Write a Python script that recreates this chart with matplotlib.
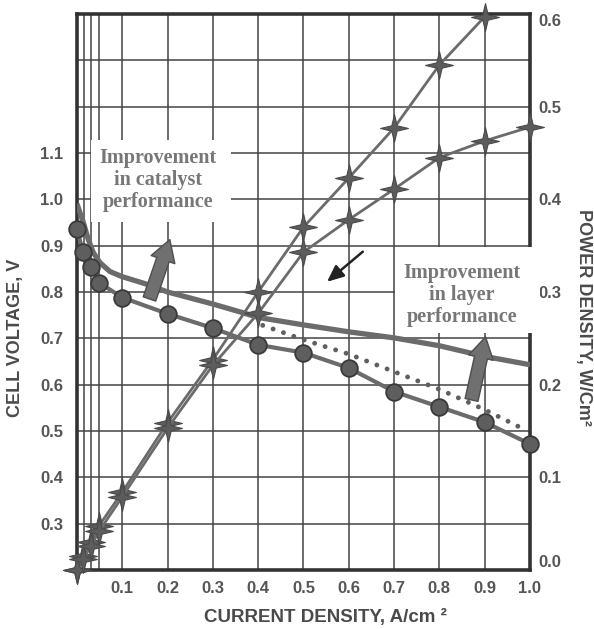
import matplotlib
matplotlib.use('Agg')
import matplotlib.pyplot as plt
from matplotlib.path import Path
from matplotlib.patches import Rectangle, FancyArrowPatch

# cell voltage of the base cell (circles), A/cm2 -> V
i_base = [0.0, 0.013, 0.032, 0.049, 0.1, 0.2, 0.3, 0.4, 0.5, 0.6, 0.7, 0.8, 0.9, 1.0]
v_base = [0.937, 0.887, 0.853, 0.82, 0.788, 0.753, 0.722, 0.686, 0.669, 0.636, 0.585, 0.552, 0.519, 0.472]

# improved catalyst curve (thick line, no markers)
i_better = [0.0, 0.014, 0.025, 0.036, 0.051, 0.073, 0.1, 0.15, 0.2, 0.25, 0.3, 0.36, 0.4,
            0.5, 0.6, 0.7, 0.8, 0.9, 1.0]
v_better = [0.99, 0.95, 0.913, 0.885, 0.863, 0.844, 0.833, 0.818, 0.80, 0.787, 0.774, 0.757, 0.745,
            0.729, 0.714, 0.701, 0.684, 0.661, 0.643]

# dotted curve
i_dot = [0.41, 0.5, 0.6, 0.7, 0.8, 0.9, 0.98]
v_dot = [0.728, 0.697, 0.666, 0.628, 0.59, 0.546, 0.507]

# power density curves (stars), W/cm2
i_pow_hi = [0.0, 0.014, 0.031, 0.049, 0.1, 0.2, 0.3, 0.4, 0.5, 0.6, 0.7, 0.8, 0.9]
p_pow_hi = [0.0, 0.015, 0.03, 0.048, 0.084, 0.159, 0.227, 0.30, 0.37, 0.423, 0.477, 0.545, 0.597]
i_pow_lo = [0.0, 0.014, 0.031, 0.049, 0.1, 0.2, 0.3, 0.4, 0.5, 0.6, 0.7, 0.8, 0.9, 1.0]
p_pow_lo = [0.0, 0.012, 0.026, 0.042, 0.079, 0.153, 0.221, 0.277, 0.343, 0.378, 0.411, 0.445, 0.463, 0.478]

# axes ticks
x_grid = [0.016, 0.032, 0.049, 0.1, 0.2, 0.3, 0.4, 0.5, 0.6, 0.7, 0.8, 0.9, 1.0]
x_labels = ['', '', '', '0.1', '0.2', '0.3', '0.4', '0.5', '0.6', '0.7', '0.8', '0.9', '1.0']
v_grid = [0.2, 0.3, 0.4, 0.5, 0.6, 0.7, 0.8, 0.9, 1.0, 1.1, 1.2, 1.3, 1.4]
v_labels = ['', '0.3', '0.4', '0.5', '0.6', '0.7', '0.8', '0.9', '1.0', '1.1', '', '', '']
p_ticks = [0.0, 0.1, 0.2, 0.3, 0.4, 0.5, 0.6]
p_labels = ['0.0', '0.1', '0.2', '0.3', '0.4', '0.5', '0.6']

sans = 'Liberation Sans'
serif = 'Liberation Serif'
tick_col = '#555555'
line_col = '#6b6b6b'

fig = plt.figure(figsize=(5.94, 6.29), dpi=100)
ax = fig.add_axes([0.1296, 0.0938, 0.7626, 0.884])
ax2 = ax.twinx()

ax.set_xlim(0, 1.0)
ax.set_ylim(0.2, 1.4)
ax2.set_ylim(0, 0.6)

ax.set_xticks(x_grid)
ax.set_xticklabels(x_labels, fontfamily=sans, fontweight='bold', fontsize=12, color=tick_col)
ax.set_yticks(v_grid)
ax.set_yticklabels(v_labels, fontfamily=sans, fontweight='bold', fontsize=12, color=tick_col)
ax2.set_yticks(p_ticks)
ax2.set_yticklabels(p_labels, fontfamily=sans, fontweight='bold', fontsize=12, color=tick_col)
ax.tick_params(axis='x', length=0, pad=8)
ax.tick_params(axis='y', length=0, pad=10)
ax2.tick_params(axis='y', length=0, pad=6)
lbls = ax2.get_yticklabels()
lbls[0].set_va('bottom')
lbls[-1].set_va('top')

ax.grid(True, color='#444444', lw=1.1)
for s in ax.spines.values():
    s.set_linewidth(2.6)
    s.set_color('#333333')
for s in ax2.spines.values():
    s.set_visible(False)

# voltage curves
ax.plot(i_better, v_better, color=line_col, lw=3.8, solid_capstyle='butt', zorder=3)
ax.plot(i_dot, v_dot, color='#5f5f5f', lw=3.5, dashes=(0.01, 2.25), dash_capstyle='round', zorder=3)
ax.plot(i_base, v_base, color=line_col, lw=3.0, marker='o', ms=12,
        mfc='#5e5e5e', mec='#3a3a3a', mew=1.3, zorder=4, clip_on=False)

# power curves with four point stars
star = Path.unit_regular_star(4, 0.27)
ax2.plot(i_pow_hi, p_pow_hi, color=line_col, lw=2.0, marker=star, ms=20,
         mfc='#5c5c5c', mec='#4a4a4a', mew=0.8, clip_on=False)
ax2.plot(i_pow_lo, p_pow_lo, color=line_col, lw=2.0, marker=star, ms=20,
         mfc='#5c5c5c', mec='#4a4a4a', mew=0.8, clip_on=False)

# white boxes with annotations
ax2.add_patch(Rectangle((0.031, 0.952), 0.309, 0.177, transform=ax.transData,
                        fc='white', ec='none', zorder=5, clip_on=False))
ax2.add_patch(Rectangle((0.702, 0.712), 0.32, 0.186, transform=ax.transData,
                        fc='white', ec='none', zorder=5, clip_on=False))
ax2.text(0.179, 1.042, 'Improvement\nin catalyst\nperformance', transform=ax.transData,
         ha='center', va='center', fontfamily=serif, fontweight='bold', fontsize=14.5,
         color='#777777', linespacing=1.15, zorder=6)
ax2.text(0.85, 0.794, 'Improvement\nin layer\nperformance', transform=ax.transData,
         ha='center', va='center', fontfamily=serif, fontweight='bold', fontsize=14.5,
         color='#777777', linespacing=1.15, zorder=6)

# block arrows
for tail, tip in [((0.16, 0.785), (0.205, 0.913)), ((0.871, 0.567), (0.902, 0.703))]:
    arr = FancyArrowPatch(tail, tip, transform=ax.transData,
                          arrowstyle='simple,head_length=0.8,head_width=0.95,tail_width=0.5',
                          mutation_scale=19, fc='#707070', ec='#4e4e4e', lw=1.0,
                          shrinkA=0, shrinkB=0, zorder=7)
    ax2.add_patch(arr)
ax2.add_patch(FancyArrowPatch((0.631, 0.887), (0.552, 0.822), transform=ax.transData,
                              arrowstyle='-|>,head_length=0.5,head_width=0.22',
                              mutation_scale=20, color='#222222', lw=1.8,
                              shrinkA=0, shrinkB=0, zorder=7))

# axis titles
fig.text(16 / 594, 1 - 338 / 629, 'CELL VOLTAGE, V', rotation=90, ha='center', va='center',
         fontfamily=sans, fontweight='bold', fontsize=13, color='#4a4a4a')
fig.text(583 / 594, 1 - 317 / 629, 'POWER DENSITY, W/Cm²', rotation=270, ha='center', va='center',
         fontfamily=sans, fontweight='bold', fontsize=13, color='#4a4a4a')
fig.text(325 / 594, 1 - 617 / 629, 'CURRENT DENSITY, A/cm ²', ha='center', va='center',
         fontfamily=sans, fontweight='bold', fontsize=13.5, color='#4a4a4a')

fig.savefig('out.png', dpi=100)
